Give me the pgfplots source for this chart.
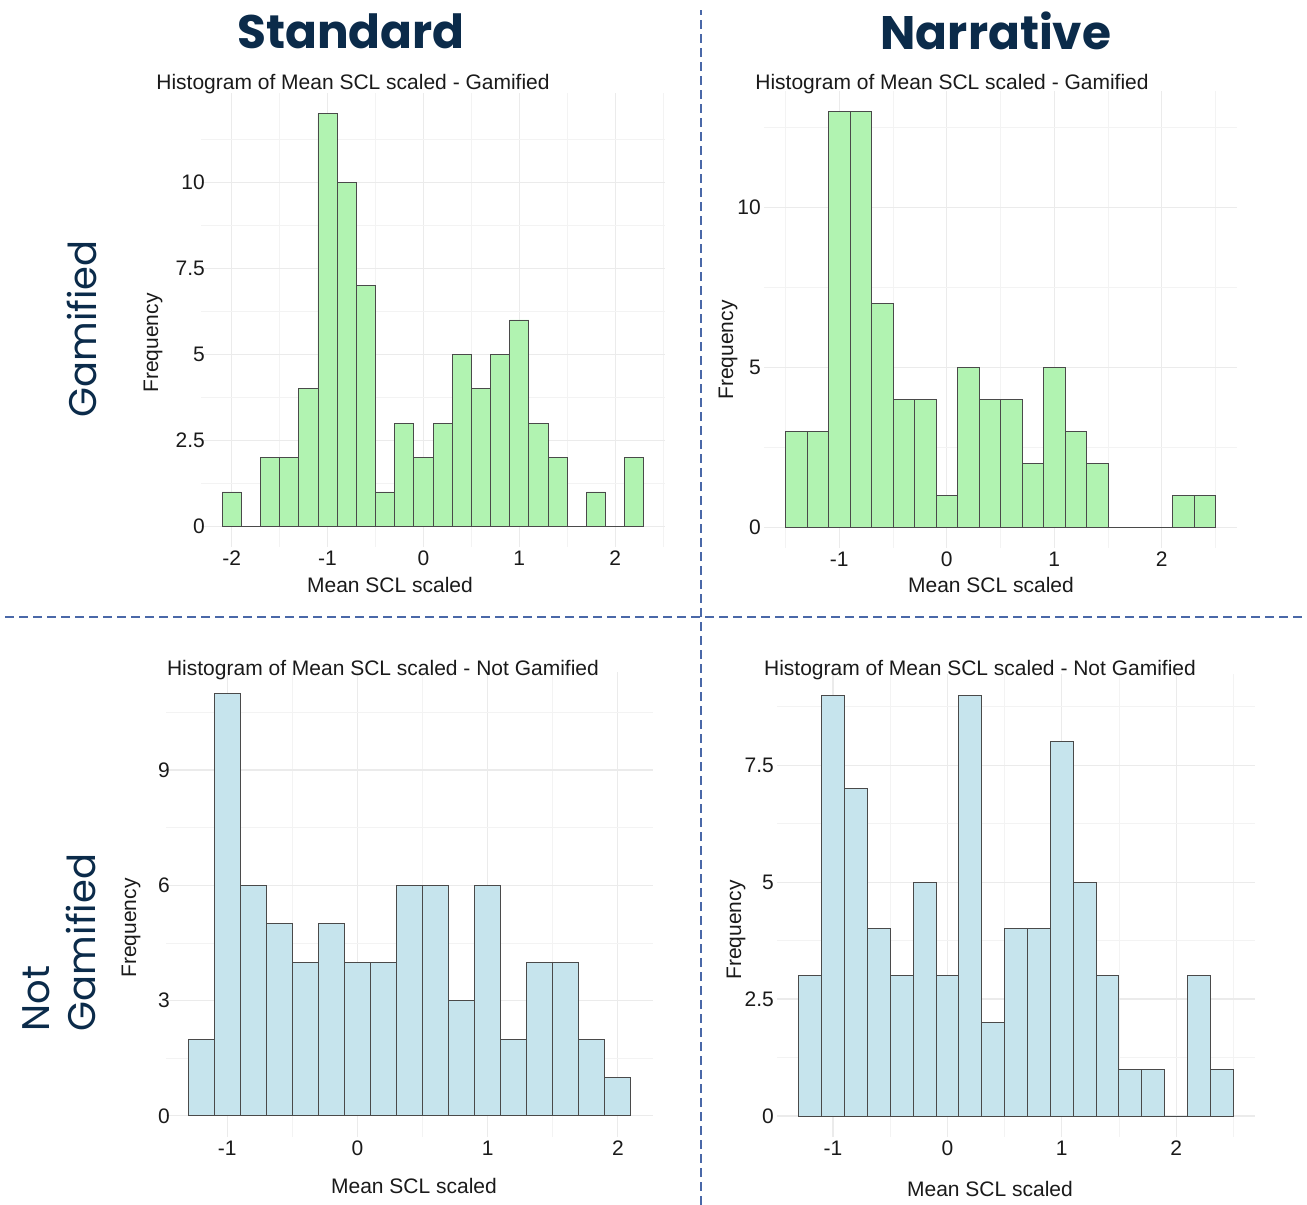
\documentclass[border=0pt]{standalone}
\usepackage{fontspec}
\setmainfont{Liberation Sans}
\newfontfamily\poppins{Poppins}
\usepackage{pgfplots}
\pgfplotsset{compat=1.18}
\definecolor{navy}{HTML}{0B2B4A}
\definecolor{dashc}{HTML}{4A68A8}
\definecolor{greenf}{HTML}{B1F3B1}
\definecolor{bluef}{HTML}{C6E4ED}
\definecolor{edgec}{HTML}{4A4A4A}
\definecolor{gridc}{HTML}{EBEBEB}
\definecolor{gridm}{HTML}{F3F3F3}
\definecolor{txt}{HTML}{1A1A1A}
\pgfplotsset{
  hist/.style={
    scale only axis, anchor=south west,
    axis line style={draw=none},
    major tick length=0pt, minor tick length=0pt,
    grid=both,
    major grid style={line width=1.1pt, color=gridc},
    minor grid style={line width=0.6pt, color=gridm},
    tick label style={font=\fontsize{21}{24}\selectfont, text=txt},
    /pgf/number format/assume math mode=true,
    xticklabel style={anchor=north, inner sep=0pt, yshift=-4pt},
    yticklabel style={anchor=east, inner sep=0pt},
  },
  gbar/.style={ybar interval, fill=greenf, draw=edgec, line width=0.9pt},
  bbar/.style={ybar interval, fill=bluef, draw=edgec, line width=0.9pt},
}
\begin{document}
\begin{tikzpicture}[x=1pt,y=1pt]
\useasboundingbox (0,0) rectangle (1307,1205);
% Panel 1: Standard - Gamified
\begin{axis}[hist, at={(201pt,658pt)}, width=464pt, height=454pt,
  xmin=-2.32, xmax=2.52, ymin=-0.6, ymax=12.6,
  xtick={-2,-1,0,1,2}, minor xtick={-1.5,-0.5,0.5,1.5,2.5},
  ytick={0,2.5,5,7.5,10}, minor ytick={1.25,3.75,6.25,8.75,11.25},
  yticklabel style={xshift=4pt}]
\addplot[gbar] coordinates {(-2.1,1) (-1.9,0) (-1.7,2) (-1.5,2) (-1.3,4) (-1.1,12) (-0.9,10) (-0.7,7) (-0.5,1) (-0.3,3) (-0.1,2) (0.1,3) (0.3,5) (0.5,4) (0.7,5) (0.9,6) (1.1,3) (1.3,2) (1.5,0) (1.7,1) (1.9,0) (2.1,2) (2.3,0)};
\end{axis}
% Panel 2: Narrative - Gamified
\begin{axis}[hist, at={(764pt,657pt)}, width=473pt, height=457pt,
  xmin=-1.7, xmax=2.7, ymin=-0.65, ymax=13.65,
  xtick={-1,0,1,2}, minor xtick={-1.5,-0.5,0.5,1.5,2.5},
  ytick={0,5,10}, minor ytick={2.5,7.5,12.5},
  yticklabel style={xshift=-3pt}]
\addplot[gbar] coordinates {(-1.5,3) (-1.3,3) (-1.1,13) (-0.9,13) (-0.7,7) (-0.5,4) (-0.3,4) (-0.1,1) (0.1,5) (0.3,4) (0.5,4) (0.7,2) (0.9,5) (1.1,3) (1.3,2) (1.5,0) (1.7,0) (1.9,0) (2.1,1) (2.3,1) (2.5,0)};
\end{axis}
% Panel 3: Standard - Not Gamified
\begin{axis}[hist, at={(166pt,68pt)}, width=487pt, height=465pt,
  xmin=-1.47, xmax=2.27, ymin=-0.55, ymax=11.55,
  xtick={-1,0,1,2}, minor xtick={-0.5,0.5,1.5},
  ytick={0,3,6,9}, minor ytick={1.5,4.5,7.5,10.5},
  yticklabel style={xshift=4pt}]
\addplot[bbar] coordinates {(-1.3,2) (-1.1,11) (-0.9,6) (-0.7,5) (-0.5,4) (-0.3,5) (-0.1,4) (0.1,4) (0.3,6) (0.5,6) (0.7,3) (0.9,6) (1.1,2) (1.3,4) (1.5,4) (1.7,2) (1.9,1) (2.1,0)};
\end{axis}
% Panel 4: Narrative - Not Gamified
\begin{axis}[hist, at={(777pt,68pt)}, width=478pt, height=463pt,
  xmin=-1.49, xmax=2.69, ymin=-0.45, ymax=9.45,
  xtick={-1,0,1,2}, minor xtick={-0.5,0.5,1.5,2.5},
  ytick={0,2.5,5,7.5}, minor ytick={1.25,3.75,6.25,8.75},
  yticklabel style={xshift=-3pt}]
\addplot[bbar] coordinates {(-1.3,3) (-1.1,9) (-0.9,7) (-0.7,4) (-0.5,3) (-0.3,5) (-0.1,3) (0.1,9) (0.3,2) (0.5,4) (0.7,4) (0.9,8) (1.1,5) (1.3,3) (1.5,1) (1.7,1) (1.9,0) (2.1,3) (2.3,1) (2.5,0)};
\end{axis}
% dashed separators
\draw[dashc, line width=2pt, dash pattern=on 9pt off 5pt] (701,0) -- (701,1195);
\draw[dashc, line width=2pt, dash pattern=on 9pt off 5pt] (5,588) -- (1305,588);
% headers
\node[text=navy, font=\poppins\bfseries\fontsize{47}{50}\selectfont] at (351,1174) {Standard};
\node[text=navy, font=\poppins\bfseries\fontsize{47}{50}\selectfont] at (996,1174) {Narrative};
\node[text=navy, font=\poppins\fontsize{38.5}{46}\selectfont, rotate=90] at (82,876) {Gamified};
\node[text=navy, font=\poppins\fontsize{38.5}{46}\selectfont, rotate=90, align=left] at (59.5,262.5) {Not\\Gamified};
% titles
\node[text=txt, font=\fontsize{21}{25}\selectfont] at (353,1121) {Histogram of Mean SCL scaled - Gamified};
\node[text=txt, font=\fontsize{21}{25}\selectfont] at (952,1121) {Histogram of Mean SCL scaled - Gamified};
\node[text=txt, font=\fontsize{21}{25}\selectfont] at (383,535) {Histogram of Mean SCL scaled - Not Gamified};
\node[text=txt, font=\fontsize{21}{25}\selectfont] at (980,535) {Histogram of Mean SCL scaled - Not Gamified};
% y labels
\node[text=txt, font=\fontsize{21}{25}\selectfont, rotate=90] at (153,862) {Frequency};
\node[text=txt, font=\fontsize{21}{25}\selectfont, rotate=90] at (728,855) {Frequency};
\node[text=txt, font=\fontsize{21}{25}\selectfont, rotate=90] at (131,277) {Frequency};
\node[text=txt, font=\fontsize{21}{25}\selectfont, rotate=90] at (736,275) {Frequency};
% x labels
\node[text=txt, font=\fontsize{21}{25}\selectfont] at (390,620) {Mean SCL scaled};
\node[text=txt, font=\fontsize{21}{25}\selectfont] at (991,620) {Mean SCL scaled};
\node[text=txt, font=\fontsize{21}{25}\selectfont] at (414,19) {Mean SCL scaled};
\node[text=txt, font=\fontsize{21}{25}\selectfont] at (990,16) {Mean SCL scaled};
\end{tikzpicture}
\end{document}
